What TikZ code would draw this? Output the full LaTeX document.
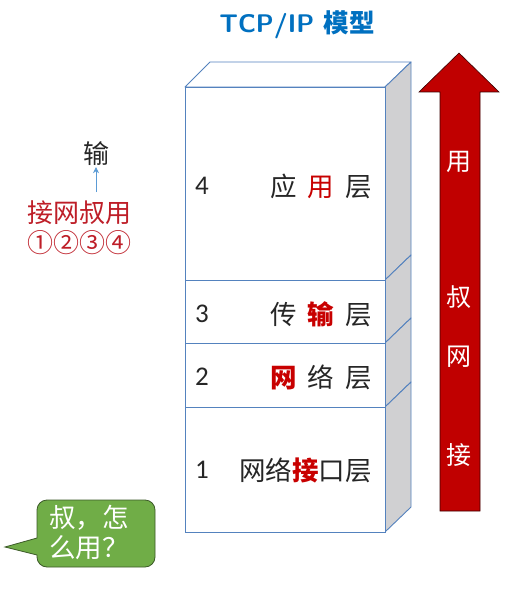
\documentclass[tikz,border=0pt]{standalone}
\usepackage{fontspec}
\newfontfamily\cjk{Noto Sans CJK SC}
\newfontfamily\numfont{Carlito}
\usetikzlibrary{arrows.meta}
\definecolor{edgeblue}{RGB}{84,130,190}
\definecolor{sidegray}{RGB}{208,208,210}
\definecolor{titleblue}{RGB}{0,112,192}
\definecolor{darkred}{RGB}{192,0,0}
\definecolor{txtred}{RGB}{200,0,0}
\definecolor{bubgreen}{RGB}{112,173,71}
\definecolor{bubedge}{RGB}{60,90,40}
\definecolor{arrblue}{RGB}{91,155,213}
\definecolor{lred}{RGB}{190,30,40}
\tikzset{
  front/.style={draw=edgeblue, line width=0.9pt, fill=white},
  side/.style={draw=edgeblue, line width=0.9pt, fill=sidegray, line join=round},
  topface/.style={draw=edgeblue, line width=0.9pt, fill=white, line join=round},
  layertxt/.style={font=\cjk\fontsize{26.5}{28}\selectfont, anchor=east, inner sep=0pt, text=black!85},
  numtxt/.style={font=\numfont\fontsize{27}{29}\selectfont, inner sep=0pt, text=black!85},
  arrtxt/.style={font=\cjk\fontsize{25}{27}\selectfont, text=white, inner sep=0pt},
}
\begin{document}
\begin{tikzpicture}[x=1pt,y=-1pt]
\useasboundingbox (0,0) rectangle (504,604);
\fill[white] (0,0) rectangle (504,604);
% title
\node[font=\sffamily\bfseries\fontsize{25.5}{27}\selectfont, text=titleblue, inner sep=0pt] (title) at (297,25) {TCP/IP {\cjk\bfseries 模型}};
% top face
\draw[topface] (185,87) -- (210,62) -- (411,62) -- (385,87) -- cycle;
% side faces
\draw[side] (385,87) -- (411,62) -- (411,255) -- (385,280) -- cycle;
\draw[side] (385,280) -- (411,255) -- (411,318) -- (385,343) -- cycle;
\draw[side] (385,343) -- (411,318) -- (411,382) -- (385,407) -- cycle;
\draw[side] (385,407) -- (411,382) -- (411,507) -- (385,532) -- cycle;
% front faces
\draw[front] (185,87) rectangle (385,280);
\draw[front] (185,280) rectangle (385,343);
\draw[front] (185,343) rectangle (385,407);
\draw[front] (185,407) rectangle (385,532);
% numbers
\node[numtxt] (n4) at (202,186) {4};
\node[numtxt] (n3) at (202,314) {3};
\node[numtxt] (n2) at (202,377) {2};
\node[numtxt] (n1) at (202,470) {1};
% layer names
\node[layertxt] (l4) at (372,186) {应\hspace{11pt}\textcolor{txtred}{用}\hspace{11pt}层};
\node[layertxt] (l3) at (372,314) {传\hspace{11pt}\textcolor{txtred}{\bfseries 输}\hspace{11pt}层};
\node[layertxt] (l2) at (372,377) {\textcolor{txtred}{\bfseries 网}\hspace{11pt}络\hspace{11pt}层};
\node[layertxt] (l1) at (372,470) {网络\textcolor{txtred}{\bfseries 接}口层};
% red arrow
\draw[fill=darkred, draw=black!70!darkred, line width=0.6pt, line join=miter]
  (440,511) -- (440,92) -- (419,92) -- (459,53) -- (499,92) -- (480,92) -- (480,511) -- cycle;
\node[arrtxt] (a1) at (459,162) {用};
\node[arrtxt] (a2) at (459,297) {叔};
\node[arrtxt] (a3) at (459,357) {网};
\node[arrtxt] (a4) at (459,455) {接};
% left mnemonic
\node[font=\cjk\fontsize{26}{28}\selectfont, text=black!85, inner sep=0pt] (shu) at (96,154) {输};
\node[font=\cjk\fontsize{26}{28}\selectfont, text=lred, inner sep=0pt] (jie) at (79,213) {接网叔用};
\node[font=\cjk\fontsize{26}{28}\selectfont, text=lred, inner sep=0pt] (nums) at (79,243) {①②③④};
\coordinate (astart) at (96,192);
\draw[arrblue, line width=0.7pt, -{Stealth[length=6pt,width=6pt]}] (astart) -- ([yshift=-1pt]shu.south);
% speech bubble
\draw[fill=bubgreen, draw=bubedge, line width=0.8pt]
  (37,538) -- (5,547) -- (37,555) [rounded corners=10pt] -- (37,567) -- (155,567) -- (155,500) -- (37,500) [rounded corners=0pt] -- cycle;
\node[font=\cjk\fontsize{26.5}{28}\selectfont, text=white, inner sep=0pt, anchor=west] (b1) at (49,518) {叔，怎};
\node[font=\cjk\fontsize{26.5}{28}\selectfont, text=white, inner sep=0pt, anchor=west] (b2) at (49,548) {么用？};
\end{tikzpicture}
\end{document}
